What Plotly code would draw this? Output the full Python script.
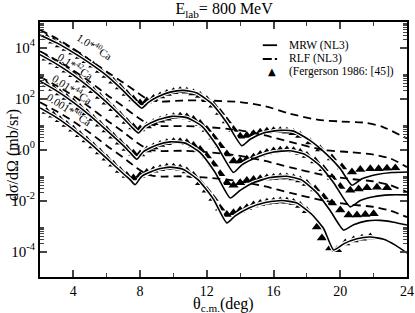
import numpy as np
import plotly.graph_objects as go

# ---------------- data (log10 of dsigma/dOmega in mb/sr, already scaled) ----------------
# 40Ca x 1.0
ca40_mrw_theta = [2.0, 3.0, 4.0, 5.0, 6.0, 7.0, 7.6, 8.1, 8.5, 9.0, 9.8, 10.6, 11.4, 12.3, 13.2, 14.1,
                  14.6, 15.4, 16.4, 17.2, 18.2, 19.2, 20.0, 20.7, 21.3, 22.2, 23.1, 24.0]
ca40_mrw_log = [4.49, 4.18, 3.80, 3.38, 2.90, 2.30, 1.90, 1.62, 1.85, 2.05, 2.25, 2.32, 2.22, 1.80, 1.05, 0.15,
                0.40, 0.65, 0.75, 0.72, 0.35, -0.20, -0.75, -1.40, -1.15, -0.98, -0.90, -0.88]
ca40_rlf_theta = [2.0, 3.0, 4.0, 5.0, 6.0, 7.0, 7.8, 8.5, 9.3, 10.5, 12.0, 14.0, 15.5, 17.0, 18.7, 20.0, 21.5, 22.5, 24.0]
ca40_rlf_log = [4.69, 4.35, 3.95, 3.50, 3.05, 2.62, 2.25, 1.95, 1.88, 1.92, 1.92, 1.86, 1.70, 1.40, 1.16, 1.10, 1.05, 0.90, 0.43]
ca40_exp_theta = [2.4, 2.8, 3.2, 3.6, 4.0, 4.4, 4.8, 5.2, 5.6, 6.0, 6.4, 6.8, 7.2, 7.6, 8.0, 8.4, 8.8, 9.2, 9.6,
                  10.0, 10.4, 10.8, 11.2, 11.6, 12.0, 12.4, 12.8, 13.2, 13.6, 14.0, 14.4, 14.8, 15.2, 15.6, 16.0,
                  16.4, 16.8, 17.2, 17.6, 18.2, 18.8, 19.5, 20.1, 20.7, 21.2, 21.8, 22.3, 22.8, 23.3]
ca40_exp_log = [4.38, 4.25, 4.10, 3.96, 3.81, 3.65, 3.48, 3.30, 3.10, 2.90, 2.68, 2.45, 2.20, 1.98, 1.82, 1.90, 2.00,
                2.10, 2.20, 2.26, 2.30, 2.28, 2.22, 2.12, 1.95, 1.74, 1.45, 1.12, 0.78, 0.52, 0.55, 0.62, 0.68, 0.72,
                0.74, 0.74, 0.72, 0.66, 0.55, 0.29, 0.02, -0.33, -0.69, -0.88, -0.78, -0.75, -0.75, -0.74, -0.73]

# 42Ca x 0.1
ca42_mrw_theta = [2.0, 3.0, 4.0, 5.0, 6.0, 7.0, 7.5, 7.9, 8.3, 9.0, 9.9, 10.8, 11.7, 12.6, 13.6, 14.1, 15.0,
                  16.0, 17.0, 17.9, 18.8, 19.6, 20.6, 21.2, 22.0, 23.0, 24.0]
ca42_mrw_log = [3.72, 3.35, 2.92, 2.42, 1.85, 1.22, 0.88, 0.65, 0.92, 1.15, 1.30, 1.25, 0.92, 0.15, -0.90, -0.60,
                -0.30, -0.10, -0.05, -0.20, -0.65, -1.30, -2.25, -2.00, -1.85, -1.78, -1.78]
ca42_rlf_theta = [2.0, 3.0, 4.0, 5.0, 6.0, 7.0, 7.8, 8.5, 9.3, 10.5, 12.0, 14.0, 15.5, 17.0, 19.0, 20.5, 22.0, 23.0, 24.0]
ca42_rlf_log = [3.85, 3.50, 3.10, 2.65, 2.15, 1.68, 1.28, 1.00, 0.92, 0.92, 0.88, 0.75, 0.55, 0.30, -0.02, -0.10, -0.20, -0.35, -0.69]
ca42_exp_theta = [2.4, 2.8, 3.2, 3.6, 4.0, 4.4, 4.8, 5.2, 5.6, 6.0, 6.4, 6.8, 7.2, 7.6, 8.0, 8.4, 8.8, 9.2, 9.6,
                  10.0, 10.4, 10.8, 11.2, 11.6, 12.0, 12.4, 12.8, 13.2, 13.6, 14.0, 14.4, 14.8, 15.2, 15.6, 16.0,
                  16.4, 16.8, 17.2, 17.6, 18.0, 18.5, 19.0, 19.5, 20.0, 20.6, 21.1, 21.6, 22.2, 22.8]
ca42_exp_log = [3.58, 3.43, 3.28, 3.11, 2.93, 2.73, 2.52, 2.30, 2.08, 1.85, 1.60, 1.35, 1.10, 0.88, 0.80, 0.92, 1.05,
                1.15, 1.23, 1.28, 1.30, 1.27, 1.18, 1.02, 0.78, 0.48, 0.15, -0.18, -0.45, -0.45, -0.38, -0.30, -0.20,
                -0.12, -0.06, -0.03, -0.02, -0.05, -0.12, -0.24, -0.45, -0.75, -1.10, -1.45, -1.60, -1.55, -1.50,
                -1.48, -1.50]

# 44Ca x 0.01
ca44_mrw_theta = [2.0, 3.0, 4.0, 5.0, 6.0, 7.0, 7.4, 7.8, 8.2, 9.0, 9.8, 10.7, 11.6, 12.5, 13.4, 14.0, 14.8,
                  15.8, 16.8, 17.7, 18.6, 19.4, 20.2, 20.8, 21.6, 22.4, 23.2, 24.0]
ca44_mrw_log = [2.68, 2.30, 1.85, 1.33, 0.75, 0.15, -0.12, -0.38, -0.08, 0.18, 0.30, 0.25, -0.12, -0.90, -1.90,
                -1.60, -1.30, -1.10, -1.05, -1.20, -1.70, -2.40, -3.16, -2.95, -2.80, -2.78, -2.85, -2.96]
ca44_rlf_theta = [2.0, 3.0, 4.0, 5.0, 6.0, 7.0, 7.8, 8.5, 9.3, 10.5, 12.0, 14.0, 15.5, 17.0, 19.0, 20.5, 22.0, 23.0, 24.0]
ca44_rlf_log = [2.85, 2.50, 2.10, 1.65, 1.15, 0.68, 0.28, 0.00, -0.06, -0.05, -0.10, -0.25, -0.45, -0.70, -1.00, -1.15, -1.25, -1.40, -1.67]
ca44_exp_theta = [2.4, 2.8, 3.2, 3.6, 4.0, 4.4, 4.8, 5.2, 5.6, 6.0, 6.4, 6.8, 7.2, 7.6, 8.0, 8.4, 8.8, 9.2, 9.6,
                  10.0, 10.4, 10.8, 11.2, 11.6, 12.0, 12.4, 12.8, 13.2, 13.6, 14.0, 14.4, 14.8, 15.2, 15.6, 16.0,
                  16.4, 16.8, 17.2, 17.6, 18.0, 18.5, 19.0, 19.5, 20.0, 20.5, 21.0, 21.5, 22.0]
ca44_exp_log = [2.54, 2.39, 2.22, 2.04, 1.86, 1.65, 1.44, 1.22, 0.99, 0.76, 0.52, 0.28, 0.04, -0.15, -0.18, -0.02,
                0.10, 0.20, 0.26, 0.30, 0.30, 0.26, 0.16, 0.00, -0.25, -0.58, -0.95, -1.30, -1.40, -1.30, -1.22,
                -1.18, -1.15, -1.12, -1.10, -1.08, -1.08, -1.12, -1.20, -1.33, -1.55, -1.86, -2.10, -2.37, -2.57,
                -2.57, -2.55, -2.52]

# 48Ca x 0.001
ca48_mrw_theta = [2.0, 3.0, 4.0, 5.0, 6.0, 7.0, 7.4, 7.7, 8.1, 9.0, 9.8, 10.6, 11.5, 12.4, 13.2, 13.7, 14.5,
                  15.5, 16.5, 17.4, 18.3, 19.0, 19.6, 20.2, 21.0, 21.8, 22.6, 23.3, 24.0]
ca48_mrw_log = [1.63, 1.25, 0.78, 0.25, -0.35, -0.95, -1.18, -1.38, -1.05, -0.78, -0.69, -0.78, -1.20, -1.95,
                -2.88, -2.60, -2.30, -2.08, -2.00, -2.10, -2.55, -3.10, -3.94, -3.70, -3.50, -3.43, -3.52, -3.75, -4.06]
ca48_rlf_theta = [2.0, 3.0, 4.0, 5.0, 6.0, 7.0, 7.8, 8.5, 9.3, 10.5, 12.0, 14.0, 15.5, 17.0, 19.0, 20.5, 22.0, 23.0, 24.0]
ca48_rlf_log = [1.85, 1.50, 1.10, 0.65, 0.15, -0.32, -0.72, -1.00, -1.06, -1.05, -1.10, -1.25, -1.45, -1.70, -2.00, -2.15, -2.25, -2.40, -2.65]
ca48_exp_theta = [2.4, 2.8, 3.2, 3.6, 4.0, 4.4, 4.8, 5.2, 5.6, 6.0, 6.4, 6.8, 7.2, 7.6, 8.0, 8.4, 8.8, 9.2, 9.6,
                  10.0, 10.4, 10.8, 11.2, 11.6, 12.0, 12.4, 12.8, 13.2, 13.6, 14.0, 14.4, 14.8, 15.2, 15.6, 16.0,
                  16.4, 16.8, 17.2, 17.6, 18.0, 18.6, 18.9, 19.4, 19.8, 20.3, 20.8, 21.3, 21.8]
ca48_exp_log = [1.49, 1.34, 1.17, 0.98, 0.79, 0.58, 0.37, 0.14, -0.10, -0.34, -0.58, -0.82, -1.02, -1.12, -1.02,
                -0.90, -0.81, -0.75, -0.70, -0.70, -0.74, -0.84, -1.02, -1.30, -1.60, -1.92, -2.30, -2.55, -2.48,
                -2.38, -2.28, -2.18, -2.12, -2.07, -2.04, -2.02, -2.03, -2.08, -2.20, -2.40, -3.04, -3.47, -3.86,
                -3.93, -3.67, -3.55, -3.48, -3.43]

labels = ["1.0*<sup>40</sup>Ca", "0.1*<sup>42</sup>Ca", "0.01*<sup>44</sup>Ca", "0.001*<sup>48</sup>Ca"]
label_theta = [5.25, 4.15, 3.95, 3.75]
label_log = [4.05, 3.27, 2.37, 1.57]

legend_names = ["MRW (NL3)", "RLF (NL3)", "(Fergerson 1986: [45])"]

x_ticks = [4, 8, 12, 16, 20, 24]
y_ticks = [1e-4, 1e-2, 1, 1e2, 1e4]
y_ticktext = ["10<sup>-4</sup>", "10<sup>-2</sup>", "10<sup>0</sup>", "10<sup>2</sup>", "10<sup>4</sup>"]

FONT = "Liberation Serif"

sets = [
    (ca40_mrw_theta, ca40_mrw_log, ca40_rlf_theta, ca40_rlf_log, ca40_exp_theta, ca40_exp_log),
    (ca42_mrw_theta, ca42_mrw_log, ca42_rlf_theta, ca42_rlf_log, ca42_exp_theta, ca42_exp_log),
    (ca44_mrw_theta, ca44_mrw_log, ca44_rlf_theta, ca44_rlf_log, ca44_exp_theta, ca44_exp_log),
    (ca48_mrw_theta, ca48_mrw_log, ca48_rlf_theta, ca48_rlf_log, ca48_exp_theta, ca48_exp_log),
]

fig = go.Figure()
for i, (mt, ml, rt, rl, et, el) in enumerate(sets):
    fig.add_trace(go.Scatter(x=rt, y=np.power(10.0, rl), mode="lines", name=legend_names[1],
                             line=dict(color="black", width=1.8, dash="8px,5px", shape="spline", smoothing=0.6),
                             showlegend=False))
    fig.add_trace(go.Scatter(x=et, y=np.power(10.0, el), mode="markers", name=legend_names[2],
                             marker=dict(symbol="triangle-up", size=9, color="black"),
                             showlegend=False))
    fig.add_trace(go.Scatter(x=mt, y=np.power(10.0, ml), mode="lines", showlegend=False, hoverinfo="skip",
                             line=dict(color="white", width=4, shape="spline", smoothing=0.5)))
    fig.add_trace(go.Scatter(x=mt, y=np.power(10.0, ml), mode="lines", name=legend_names[0],
                             line=dict(color="black", width=1.6, shape="spline", smoothing=0.5),
                             showlegend=False))

for txt, tx, ty in zip(labels, label_theta, label_log):
    fig.add_annotation(x=tx, y=ty, text=txt, showarrow=False, textangle=33,
                       font=dict(family=FONT, size=11, color="black"))

# ---- compact legend (key samples + labels), placed in paper coordinates ----
row_y = [0.909, 0.855, 0.804]
key_x0, key_x1, key_mid, text_x = 0.607, 0.646, 0.633, 0.672
fig.add_shape(type="line", xref="paper", yref="paper", x0=key_x0, x1=key_x1, y0=row_y[0], y1=row_y[0],
              line=dict(color="black", width=1.8))
fig.add_shape(type="line", xref="paper", yref="paper", x0=key_x0, x1=key_x1, y0=row_y[1], y1=row_y[1],
              line=dict(color="black", width=2, dash="9px,3px"))
fig.add_annotation(x=key_mid, y=row_y[2], xref="paper", yref="paper", text="▲", showarrow=False,
                   xanchor="center", yanchor="middle", font=dict(family="DejaVu Sans", size=10, color="black"))
for name, ry in zip(legend_names, row_y):
    fig.add_annotation(x=text_x, y=ry, xref="paper", yref="paper", text=name, showarrow=False,
                       xanchor="left", yanchor="middle", font=dict(family=FONT, size=11.5, color="black"))

# axis titles
fig.add_annotation(x=0.5, y=-0.062, xref="paper", yref="paper", text="θ<sub>c.m.</sub>(deg)",
                   showarrow=False, xanchor="center", yanchor="top", font=dict(family=FONT, size=16))
fig.add_annotation(x=-0.075, y=0.48, xref="paper", yref="paper", text="dσ/dΩ (mb/sr)", textangle=-90,
                   showarrow=False, xanchor="center", yanchor="middle", font=dict(family=FONT, size=16))

minor_y = [k * 10.0 ** e for e in (-4, -2, 0, 2, 4) for k in range(2, 10)]

fig.update_layout(
    width=415, height=313,
    margin=dict(l=40, r=8, t=22, b=36, autoexpand=False),
    paper_bgcolor="white", plot_bgcolor="white",
    font=dict(family=FONT, size=11, color="black"),
    title=dict(text="E<sub>lab</sub>= 800 MeV", x=0.54, xref="container", xanchor="center",
               y=0.99, yanchor="top", font=dict(family=FONT, size=16)),
    showlegend=False,
)
fig.update_xaxes(range=[2, 24], tickvals=x_ticks, ticks="inside", ticklen=7, tickwidth=1.5, automargin=False,
                 showline=True, linewidth=2, linecolor="black", mirror="ticks", showgrid=False, zeroline=False,
                 minor=dict(tickvals=[6, 10, 14, 18, 22], ticks="inside", ticklen=4, tickwidth=1.2),
                 tickfont=dict(family=FONT, size=14))
fig.update_yaxes(type="log", range=[-5, 5], tickvals=y_ticks, ticktext=y_ticktext, ticks="inside", ticklen=7,
                 tickwidth=1.5, showline=True, linewidth=2, linecolor="black", mirror="ticks", showgrid=False,
                 automargin=False,
                 minor=dict(tickvals=minor_y, ticks="inside", ticklen=4, tickwidth=1),
                 tickfont=dict(family=FONT, size=15))

fig.write_html("out.html", config={"displayModeBar": False},
               post_script="document.body.style.margin='0px';")
